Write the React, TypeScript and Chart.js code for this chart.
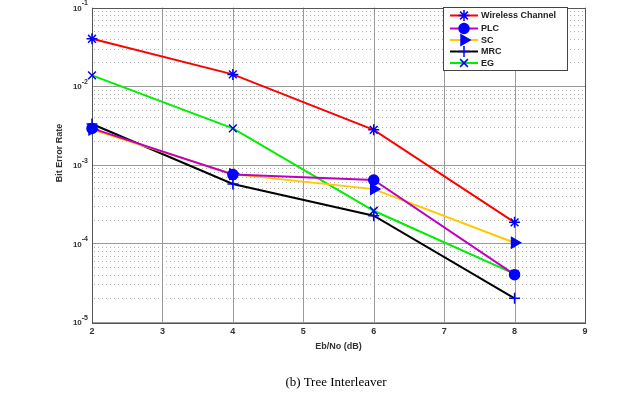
import React, { useEffect, useRef } from "react";
import { Chart, registerables } from "chart.js";
import { drawPoint } from "chart.js/helpers";

Chart.register(...registerables);

const ebno = [2, 4, 6, 8];
const wireless = [0.04, 0.0141, 0.00278, 0.000185];
const plc = [0.0029, 0.00075, 0.00064, 0.00004];
const sc = [0.0028, 0.00076, 0.00049, 0.000102];
const mrc = [0.0033, 0.00057, 0.000225, 0.00002];
const eg = [0.0137, 0.0029, 0.00026, 0.000041];

const seriesNames = ["Wireless Channel", "PLC", "SC", "MRC", "EG"];
const lineColors = ["#ff0000", "#c000c0", "#ffc800", "#000000", "#00ee00"];
const markerStyles = ["star", "circle", "triangle", "cross", "crossRot"];
const xTicks = [2, 3, 4, 5, 6, 7, 8, 9];
const yExponents = [-1, -2, -3, -4, -5];

const MARKER = "#0000ff";

function markerRotation(style: string) {
  return style === "triangle" ? 90 : 0;
}
function markerRadius(style: string) {
  if (style === "circle") return 5;
  if (style === "triangle") return 6;
  return 5.5;
}

const overlay = {
  id: "overlay",
  beforeDatasetsDraw(chart: any) {
    const { ctx, chartArea: a, scales } = chart;
    const xs = scales.x;
    const ys = scales.y;
    ctx.save();
    // minor y grid (dotted)
    ctx.strokeStyle = "#b0b0b0";
    ctx.lineWidth = 1;
    ctx.setLineDash([1, 3]);
    for (let e = -5; e < -1; e++) {
      for (let k = 2; k <= 9; k++) {
        const y = Math.round(ys.getPixelForValue(k * Math.pow(10, e))) + 0.5;
        ctx.beginPath();
        ctx.moveTo(a.left + 2, y);
        ctx.lineTo(a.right, y);
        ctx.stroke();
      }
    }
    ctx.setLineDash([]);
    ctx.strokeStyle = "#9a9a9a";
    for (const e of yExponents) {
      const y = Math.round(ys.getPixelForValue(Math.pow(10, e))) + 0.5;
      ctx.beginPath();
      ctx.moveTo(a.left, y);
      ctx.lineTo(a.right, y);
      ctx.stroke();
    }
    for (const t of xTicks) {
      const x = Math.round(xs.getPixelForValue(t)) + 0.5;
      ctx.beginPath();
      ctx.moveTo(x, a.top);
      ctx.lineTo(x, a.bottom);
      ctx.stroke();
    }
    ctx.strokeStyle = "#555555";
    ctx.strokeRect(Math.round(a.left) + 0.5, Math.round(a.top) + 0.5, Math.round(a.right - a.left), Math.round(a.bottom - a.top));
    ctx.restore();
  },
  afterDatasetsDraw(chart: any) {
    const { ctx, chartArea: a, scales } = chart;
    const xs = scales.x;
    const ys = scales.y;
    ctx.save();
    ctx.fillStyle = "#333333";
    // x tick labels
    ctx.font = "bold 9px 'Liberation Sans', Arial, sans-serif";
    ctx.textAlign = "center";
    ctx.textBaseline = "middle";
    for (const t of xTicks) {
      ctx.fillText(String(t), xs.getPixelForValue(t), a.bottom + 10);
    }
    // y tick labels
    for (const e of yExponents) {
      const y = ys.getPixelForValue(Math.pow(10, e));
      ctx.font = "bold 7px 'Liberation Sans', Arial, sans-serif";
      ctx.textAlign = "left";
      const expStr = String(e);
      const ew = ctx.measureText(expStr).width;
      const ex = a.left - 4 - ew;
      ctx.fillText(expStr, ex, y - 4);
      ctx.font = "bold 8px 'Liberation Sans', Arial, sans-serif";
      ctx.textAlign = "right";
      ctx.fillText("10", ex, y + 1);
    }
    // axis titles
    ctx.font = "bold 9px 'Liberation Sans', Arial, sans-serif";
    ctx.textAlign = "center";
    ctx.fillText("Eb/No (dB)", (a.left + a.right) / 2, a.bottom + 25);
    ctx.save();
    ctx.translate(60, 153);
    ctx.rotate(-Math.PI / 2);
    ctx.fillText("Bit Error Rate", 0, 0);
    ctx.restore();

    // legend
    const lx = 443.5, ly = 7.5, lw = 124, lh = 63;
    ctx.fillStyle = "#ffffff";
    ctx.fillRect(lx, ly, lw, lh);
    ctx.strokeStyle = "#444444";
    ctx.lineWidth = 1;
    ctx.strokeRect(lx, ly, lw, lh);
    const rows = [15.5, 28.5, 40, 51.5, 63];
    chart.data.datasets.forEach((ds: any, i: number) => {
      const y = rows[i];
      ctx.strokeStyle = ds.borderColor;
      ctx.lineWidth = 2;
      ctx.beginPath();
      ctx.moveTo(450, y);
      ctx.lineTo(478, y);
      ctx.stroke();
      ctx.fillStyle = MARKER;
      ctx.strokeStyle = MARKER;
      ctx.lineWidth = 1.5;
      drawPoint(ctx, { pointStyle: ds.pointStyle, rotation: ds.pointRotation, radius: ds.pointRadius, borderWidth: 1.5 } as any, 464, y);
      ctx.fillStyle = "#222222";
      ctx.font = "bold 9px 'Liberation Sans', Arial, sans-serif";
      ctx.textAlign = "left";
      ctx.textBaseline = "middle";
      ctx.fillText(seriesNames[i], 481, y + 0.5);
    });
    ctx.restore();
  },
};

export default function App() {
  const ref = useRef<HTMLCanvasElement>(null);
  useEffect(() => {
    const series = [wireless, plc, sc, mrc, eg];
    const chart = new Chart(ref.current as HTMLCanvasElement, {
      type: "line",
      data: {
        datasets: series.map((vals, i) => ({
          label: seriesNames[i],
          data: ebno.map((x, j) => ({ x, y: vals[j] })),
          borderColor: lineColors[i],
          backgroundColor: MARKER,
          borderWidth: 2,
          pointStyle: markerStyles[i] as any,
          pointRotation: markerRotation(markerStyles[i]),
          pointRadius: markerRadius(markerStyles[i]),
          pointBorderColor: MARKER,
          pointBackgroundColor: MARKER,
          pointBorderWidth: 1.5,
          tension: 0,
          fill: false,
          clip: false as any,
        })),
      },
      options: {
        animation: false,
        responsive: false,
        maintainAspectRatio: false,
        layout: { padding: { left: 92, right: 41, top: 6, bottom: 73 } },
        plugins: { legend: { display: false }, tooltip: { enabled: false } },
        scales: {
          x: { type: "linear", min: 2, max: 9, display: false },
          y: { type: "logarithmic", min: 1e-5, max: 1e-1, display: false },
        },
      },
      plugins: [overlay],
    });
    return () => chart.destroy();
  }, []);
  return (
    <div style={{ position: "fixed", left: 0, top: 0, width: 626, height: 395, background: "#fff" }}>
      <canvas ref={ref} width={626} height={395} style={{ position: "absolute", left: 0, top: 0 }} />
      <div
        style={{
          position: "absolute",
          left: 0,
          top: 374,
          width: 672,
          textAlign: "center",
          fontFamily: "'Liberation Serif', 'Times New Roman', serif",
          fontSize: 13,
          color: "#000",
          lineHeight: "16px",
        }}
      >
        (b) Tree Interleaver
      </div>
    </div>
  );
}
